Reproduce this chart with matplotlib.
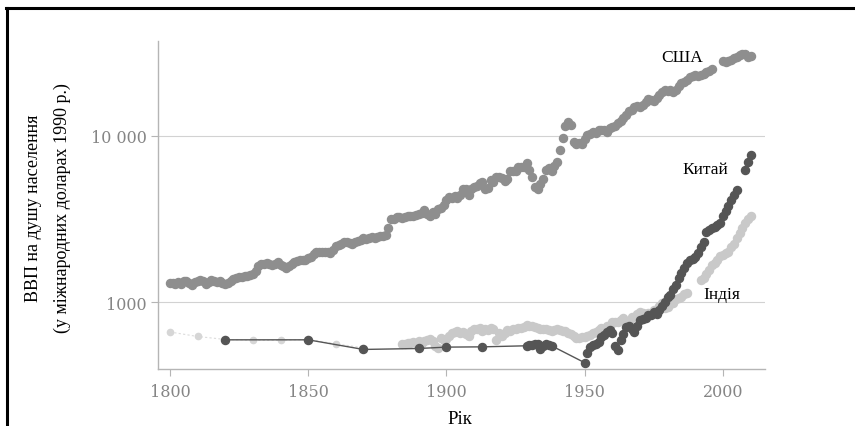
import matplotlib.pyplot as plt
from matplotlib.lines import Line2D
import numpy as np

# GDP per capita, 1990 international dollars
usa_years = list(range(1800, 1997)) + list(range(2000, 2011))
usa_gdp = [
    1300, 1310, 1290, 1320, 1280, 1330, 1340, 1310, 1260, 1320,
    1340, 1350, 1330, 1290, 1320, 1350, 1340, 1320, 1330, 1310,
    1290, 1310, 1340, 1370, 1390, 1420, 1410, 1440, 1430, 1460,
    1480, 1530, 1640, 1700, 1690, 1720, 1700, 1680, 1700, 1730,
    1660, 1640, 1610, 1650, 1700, 1740, 1760, 1800, 1790, 1780,
    1850, 1870, 1940, 1990, 2010, 1990, 2010, 2000, 1970, 2050,
    2180, 2190, 2240, 2300, 2310, 2270, 2240, 2300, 2340, 2350,
    2445, 2410, 2440, 2450, 2420, 2470, 2490, 2510, 2530, 2800,
    3180, 3170, 3250, 3240, 3220, 3230, 3280, 3280, 3300, 3340,
    3390, 3420, 3600, 3400, 3280, 3470, 3380, 3620, 3700, 3840,
    4090, 4260, 4210, 4360, 4250, 4420, 4760, 4790, 4390, 4820,
    4960, 5000, 5200, 5300, 4800, 4860, 5460, 5250, 5660, 5680,
    5550, 5320, 5540, 6160, 6170, 6190, 6480, 6490, 6500, 6900,
    6210, 5690, 4900, 4780, 5110, 5470, 6200, 6430, 6130, 6560,
    7010, 8210, 9740, 11520, 12100, 11700, 9200, 8890, 9060, 8940,
    9560, 10120, 10320, 10610, 10360, 10900, 10910, 10920, 10630, 11230,
    11330, 11400, 11900, 12240, 12770, 13420, 14130, 14330, 14860, 15180,
    15030, 15300, 15940, 16690, 16490, 16280, 17000, 17560, 18370, 18790,
    18580, 18860, 18330, 18920, 20120, 20720, 21240, 21790, 22500, 23060,
    23200, 22850, 23300, 23620, 24220, 24560, 25150,
    28130, 28000, 28200, 28700, 29400, 30000, 30600, 31000, 31300, 29900, 30500,
]

china_years = [1820, 1850, 1870, 1890, 1900, 1913,
               1929, 1930, 1931, 1932, 1933, 1934, 1935, 1936, 1937, 1938] \
    + list(range(1950, 2006)) + [2008, 2009, 2010]
china_gdp = [
    592, 592, 518, 525, 535, 537,
    545, 550, 552, 560, 555, 520, 540, 560, 553, 545,
    431, 491, 538, 552, 556, 577, 616, 637, 661, 680,
    650, 540, 515, 590, 645, 706, 718, 690, 660, 722,
    778, 793, 796, 838, 836, 874, 852, 895, 940, 1000,
    1067, 1103, 1192, 1265, 1396, 1500, 1597, 1706, 1780, 1827,
    1871, 1982, 2132, 2312, 2650, 2720, 2780, 2830, 2900, 3000,
    3300, 3550, 3800, 4100, 4400, 4750,
    6230, 6980, 7700,
]

india_early_years = [1800, 1810, 1820, 1830, 1840, 1850, 1860, 1870]
india_early_gdp = [660, 620, 595, 588, 588, 595, 560, 530]

india_years = list(range(1884, 1988)) + list(range(1992, 2011))
india_gdp = [
    555, 560, 565, 570, 575, 565,
    580, 570, 585, 590, 600, 580, 545, 530, 610, 590,
    600, 620, 650, 660, 665, 650, 660, 640, 625, 670,
    685, 690, 695, 673, 690, 680, 695, 690, 590, 650,
    620, 655, 680, 670, 690, 690, 700, 700, 710, 728,
    720, 715, 705, 700, 690, 685, 690, 680, 668, 680,
    685, 680, 670, 665, 655, 640, 620, 610, 610, 615,
    619, 623, 629, 654, 661, 676, 698, 677, 713, 713,
    753, 758, 758, 775, 800, 771, 762, 809, 815, 847,
    868, 864, 842, 853, 848, 897, 894, 947, 980, 918,
    938, 977, 985, 1043, 1060, 1079, 1110, 1130,
    1348, 1390, 1470, 1568, 1660, 1720, 1790, 1890,
    1910, 1960, 2000, 2130, 2250, 2420, 2600, 2800, 2975, 3150, 3300,
]

c_usa = '#8e8e8e'
c_china = '#555555'
c_india = '#c9c9c9'

serif = ['Liberation Serif', 'DejaVu Serif']

fig = plt.figure(figsize=(8.55, 4.27), dpi=100)
ax = fig.add_axes([158 / 855, 57 / 427, 607 / 855, 328 / 427])

ax.set_yscale('log')
ax.set_xlim(1795.7, 2015.2)
ax.set_ylim(395, 37300)

for v in [1000, 10000]:
    ax.axhline(v, color='#d2d2d2', lw=0.8, zorder=0)

# India, early sparse points with faint connecting line
ax.plot(india_early_years, india_early_gdp, ls=(0, (2, 2)), color='#dcdcdc', lw=0.8,
        marker='o', ms=4.5, mfc='#d6d6d6', mec='#d6d6d6', zorder=2)
ax.plot(india_years, india_gdp, ls='none', marker='o', ms=5.8, color=c_india,
        mec=c_india, zorder=2)

cy = np.array(china_years)
cg = np.array(china_gdp)
early = cy <= 1950
ax.plot(cy[early], cg[early], color=c_china, lw=1.0, zorder=3)
ax.plot(cy, cg, ls='none', marker='o', ms=5.8, color=c_china, mec=c_china, zorder=3)

ax.plot(usa_years, usa_gdp, ls='none', marker='o', ms=5.8, color=c_usa, mec=c_usa,
        zorder=3)

for s in ['top', 'right']:
    ax.spines[s].set_visible(False)
for s in ['left', 'bottom']:
    ax.spines[s].set_color('#b5b5b5')
    ax.spines[s].set_linewidth(1.0)

ax.set_xticks([1800, 1850, 1900, 1950, 2000])
ax.set_yticks([1000, 10000])
ax.set_yticklabels(['1000', '10 000'])
ax.yaxis.set_minor_locator(plt.NullLocator())
ax.tick_params(colors='#b5b5b5', labelcolor='#858585', length=5, width=0.8)
ax.tick_params(axis='x', pad=5)
ax.tick_params(axis='y', pad=3)
for lab in ax.get_xticklabels() + ax.get_yticklabels():
    lab.set_family('DejaVu Serif')
    lab.set_fontsize(11.5)

lbl = dict(family=serif, fontsize=12.5, color='black', ha='center', va='center',
           zorder=5)
ax.text(1985.2, 29900, 'США', **lbl)
ax.text(1993.5, 6330, 'Китай', **lbl)
ax.text(1999.6, 1117, 'Індія', **lbl)

fig.text(460 / 855, 1 - 420 / 427, 'Рік', family=serif, fontsize=13.5,
         ha='center', va='center')
fig.text(34 / 855, 1 - 208 / 427, 'ВВП на душу населення', family=serif,
         fontsize=13, rotation=90, ha='center', va='center')
fig.text(62 / 855, 1 - 208 / 427, '(у міжнародних доларах 1990 р.)', family=serif,
         fontsize=13, rotation=90, ha='center', va='center')

# scan frame
fig.add_artist(Line2D([6 / 855, 1], [1 - 9 / 427, 1 - 9 / 427], color='black', lw=2.2))
fig.add_artist(Line2D([7 / 855, 7 / 855], [0, 1 - 9 / 427], color='black', lw=2.2))

fig.savefig('out.png', dpi=100)
